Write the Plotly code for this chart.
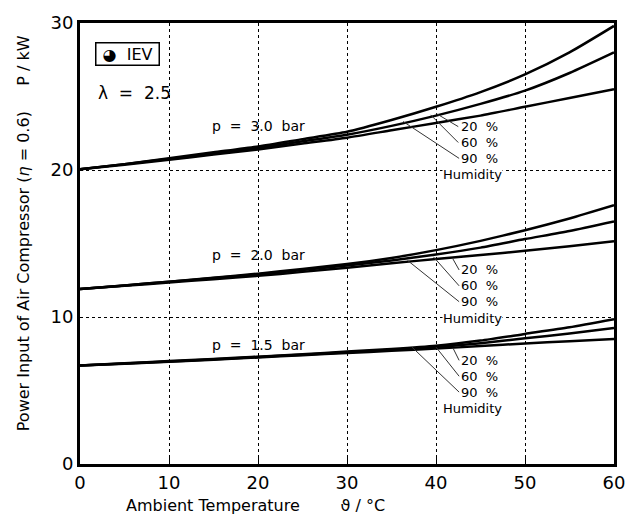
import plotly.graph_objects as go

T = [0, 5, 10, 15, 20, 25, 30, 35, 40, 45, 50, 55, 60]

p30_h20 = [20.05, 20.35, 20.7, 21.05, 21.4, 21.8, 22.2, 22.7, 23.2, 23.7, 24.3, 24.9, 25.5]
p30_h60 = [20.05, 20.4, 20.75, 21.1, 21.5, 21.95, 22.4, 23.0, 23.7, 24.5, 25.4, 26.6, 28.0]
p30_h90 = [20.05, 20.4, 20.8, 21.2, 21.6, 22.1, 22.6, 23.4, 24.3, 25.3, 26.5, 28.0, 29.8]

p20_h20 = [11.9, 12.12, 12.35, 12.57, 12.8, 13.07, 13.35, 13.65, 13.95, 14.22, 14.5, 14.82, 15.15]
p20_h60 = [11.9, 12.15, 12.4, 12.65, 12.9, 13.2, 13.5, 13.85, 14.25, 14.72, 15.3, 15.85, 16.5]
p20_h90 = [11.9, 12.15, 12.4, 12.67, 12.95, 13.27, 13.6, 14.02, 14.55, 15.18, 15.9, 16.7, 17.6]

p15_h20 = [6.7, 6.82, 6.95, 7.1, 7.25, 7.4, 7.55, 7.7, 7.85, 8.02, 8.2, 8.35, 8.5]
p15_h60 = [6.7, 6.83, 6.97, 7.12, 7.28, 7.44, 7.6, 7.77, 7.95, 8.22, 8.55, 8.88, 9.25]
p15_h90 = [6.7, 6.85, 7.0, 7.15, 7.3, 7.47, 7.65, 7.83, 8.05, 8.4, 8.85, 9.3, 9.85]

series = [p30_h20, p30_h60, p30_h90, p20_h20, p20_h60, p20_h90, p15_h20, p15_h60, p15_h90]

pressure_labels = ["p  =  3.0  bar", "p  =  2.0  bar", "p  =  1.5  bar"]
pressure_label_pos = [(20, 23.0), (20, 14.2), (20, 8.1)]
humidity_labels = ["20  %", "60  %", "90  %"]
# y of each humidity label line per group, then y of "Humidity"
hum_label_y = [(22.95, 21.87, 20.79, 19.67), (13.2, 12.12, 11.04, 9.92), (7.05, 5.97, 4.89, 3.77)]
hum_pct_x = 42.7
hum_word_x = 40.7
# leader lines: (x0, y0, x1, y1) per group per humidity
leaders = [
    [(42.5, 22.95, 40.0, 23.85), (42.5, 21.87, 39.4, 23.75), (42.6, 20.79, 36.3, 23.3)],
    [(42.6, 13.2, 41.9, 13.95), (42.6, 12.12, 39.7, 14.1), (42.6, 11.04, 36.8, 13.85)],
    [(42.6, 7.05, 41.9, 7.9), (42.6, 5.97, 40.0, 7.95), (42.6, 4.89, 37.3, 7.95)],
]

FONT = "DejaVu Sans"

fig = go.Figure()
for s in series:
    fig.add_trace(go.Scatter(x=T, y=s, mode="lines", line=dict(color="black", width=2.5,
                                                            shape="spline", smoothing=0.6),
                             showlegend=False, hoverinfo="skip"))

annotations = []
shapes = []
for (lx, ly), txt in zip(pressure_label_pos, pressure_labels):
    annotations.append(dict(x=lx, y=ly, text=txt, showarrow=False,
                            font=dict(family=FONT, size=14, color="black")))
for g, ys in enumerate(hum_label_y):
    for i, txt in enumerate(humidity_labels):
        annotations.append(dict(x=hum_pct_x, y=ys[i], text=txt, showarrow=False,
                                xanchor="left", borderpad=0,
                                font=dict(family=FONT, size=13, color="black")))
    annotations.append(dict(x=hum_word_x, y=ys[3], text="Humidity",
                            showarrow=False, bgcolor="white", xanchor="left", borderpad=0,
                            font=dict(family=FONT, size=13, color="black")))
    for (x0, y0, x1, y1) in leaders[g]:
        shapes.append(dict(type="line", x0=x0, y0=y0, x1=x1, y1=y1,
                           line=dict(color="#333", width=1)))

annotations.append(dict(x=0.029, y=0.93, xref="paper", yref="paper", text=" ◕  IEV ",
                        showarrow=False, xanchor="left", yanchor="middle",
                        bordercolor="black", borderwidth=1.5, borderpad=1, bgcolor="white",
                        font=dict(family=FONT, size=16, color="black")))
annotations.append(dict(x=0.03, y=0.842, xref="paper", yref="paper", text="λ  =  2.5",
                        showarrow=False, xanchor="left", yanchor="middle",
                        font=dict(family=FONT, size=17, color="black")))
# axis titles
annotations.append(dict(x=0.328, y=-0.093, xref="paper", yref="paper",
                        text="Ambient Temperature        ϑ / °C", showarrow=False,
                        xanchor="center", yanchor="middle",
                        font=dict(family=FONT, size=16, color="black")))
annotations.append(dict(x=-0.107, y=0.523, xref="paper", yref="paper", textangle=-90,
                        text="Power Input of Air Compressor (<i>η</i> = 0.6)     P / kW",
                        showarrow=False, xanchor="center", yanchor="middle",
                        font=dict(family=FONT, size=16, color="black")))

fig.update_layout(
    width=637, height=516,
    margin=dict(l=80, r=14, t=22, b=52),
    paper_bgcolor="white", plot_bgcolor="white",
    annotations=annotations, shapes=shapes,
    font=dict(family=FONT, color="black"),
    xaxis=dict(range=[0, 60], tickvals=[0, 10, 20, 30, 40, 50, 60],
               showline=True, linecolor="black", linewidth=3, mirror=True,
               showgrid=True, gridcolor="black", gridwidth=1, griddash="3px,3px",
               ticks="inside", ticklen=6, tickcolor="black", zeroline=False,
               tickfont=dict(size=18, family=FONT)),
    yaxis=dict(range=[0, 30], tickvals=[0, 10, 20, 30],
               showline=True, linecolor="black", linewidth=3, mirror=True,
               showgrid=True, gridcolor="black", gridwidth=1, griddash="3px,3px",
               ticks="", zeroline=False,
               tickfont=dict(size=18, family=FONT)),
)

fig.write_html("out.html")
